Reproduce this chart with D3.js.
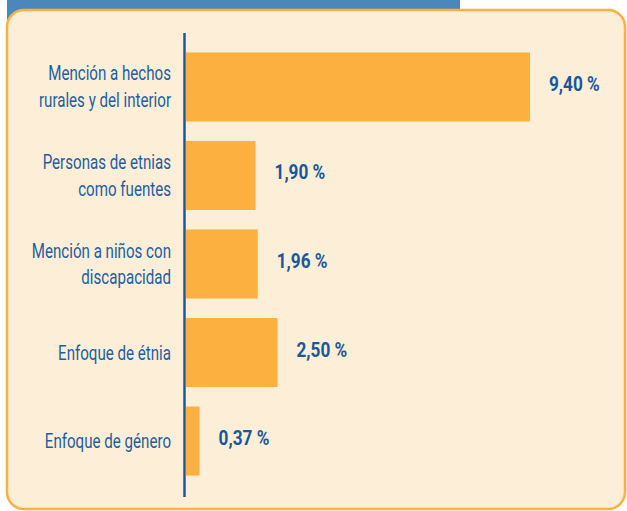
<!DOCTYPE html>
<meta charset="utf-8">
<style>
  body { margin: 0; background: #fff; }
  svg { display: block; }
  .cat { font-family: "Roboto"; font-size: 21px; fill: #1c5ea3; }
  .val { font-family: "Roboto"; font-weight: bold; font-size: 20px; fill: #17589c; }
</style>
<svg width="627" height="511"></svg>
<script src="https://d3js.org/d3.v7.min.js"></script>
<script>

var categories = [
  ["Mención a hechos", "rurales y del interior"],
  ["Personas de etnias", "como fuentes"],
  ["Mención a niños con", "discapacidad"],
  ["Enfoque de étnia"],
  ["Enfoque de género"]
];
var values = [9.40, 1.90, 1.96, 2.50, 0.37];
var valueLabels = ["9,40 %", "1,90 %", "1,96 %", "2,50 %", "0,37 %"];

var svg = d3.select("svg");

// blue band behind the panel
svg.append("rect")
  .attr("x", 7).attr("y", 0)
  .attr("width", 453).attr("height", 24)
  .attr("fill", "#4b87ba");

// cream panel
svg.append("rect")
  .attr("x", 7).attr("y", 10)
  .attr("width", 618).attr("height", 499)
  .attr("rx", 17).attr("ry", 17)
  .attr("fill", "#fdeed8")
  .attr("stroke", "#fbb040")
  .attr("stroke-width", 2.5);

var idx = d3.range(values.length);

var x = d3.scaleLinear()
  .domain([0, 9.40])
  .range([186, 530]);

var y = d3.scaleBand()
  .domain(idx)
  .range([42, 486])
  .paddingInner(0.22)
  .paddingOuter(0.118);

svg.selectAll(".bar")
  .data(idx)
  .enter().append("rect")
    .attr("class", "bar")
    .attr("x", x(0))
    .attr("y", function(i) { return y(i); })
    .attr("width", function(i) { return x(values[i]) - x(0); })
    .attr("height", y.bandwidth())
    .attr("fill", "#fcb040");

// axis line
svg.append("line")
  .attr("x1", 184.5).attr("x2", 184.5)
  .attr("y1", 33).attr("y2", 497)
  .attr("stroke", "#1f5799")
  .attr("stroke-width", 2.5);

// category labels, horizontally condensed
var sxCat = 0.72;
var cat = svg.selectAll(".catg")
  .data(idx)
  .enter().append("g")
    .attr("transform", function(i) {
      return "translate(171," + (y(i) + y.bandwidth() / 2) + ") scale(" + sxCat + ",1)";
    });

cat.each(function(i) {
  var lines = categories[i];
  var t = d3.select(this).append("text")
    .attr("class", "cat")
    .attr("text-anchor", "end");
  lines.forEach(function(l, k) {
    t.append("tspan")
      .attr("x", 0)
      .attr("y", 7 + (k - (lines.length - 1) / 2) * 27)
      .text(l);
  });
});

// value labels
var sxVal = 0.86;
svg.selectAll(".valg")
  .data(idx)
  .enter().append("g")
    .attr("transform", function(i) {
      return "translate(" + (x(values[i]) + 19) + "," + (y(i) + y.bandwidth() / 2 + 4) + ") scale(" + sxVal + ",1)";
    })
  .append("text")
    .attr("class", "val")
    .text(function(i) { return valueLabels[i]; });

</script>
